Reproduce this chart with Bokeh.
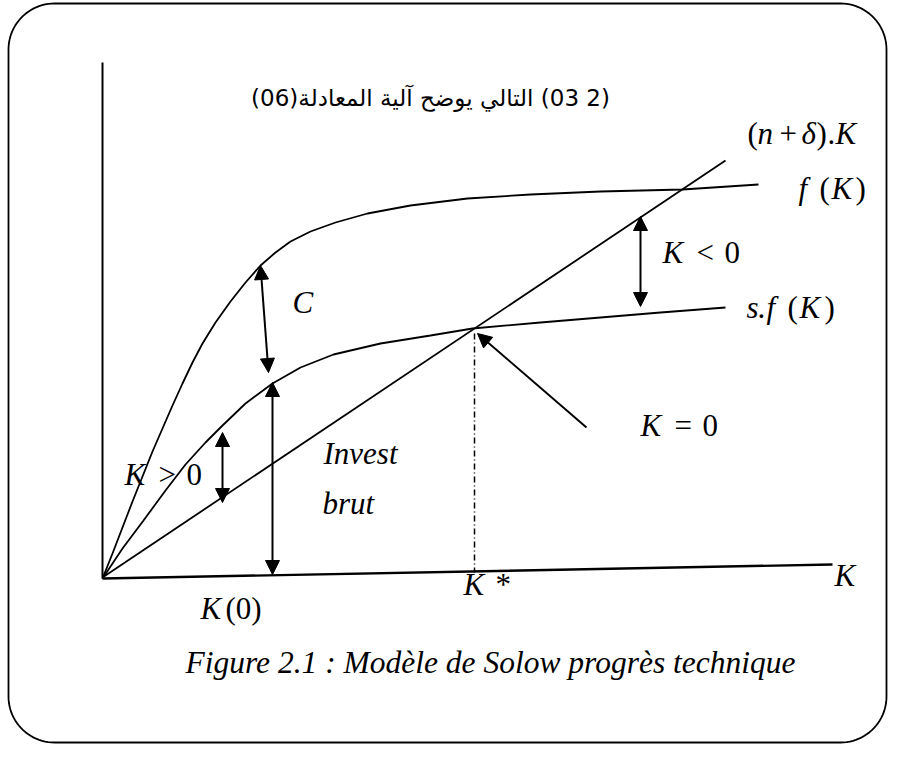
from bokeh.plotting import figure
from bokeh.models import Range1d, Arrow, NormalHead, ColumnDataSource
from bokeh.core.properties import value
from bokeh.embed import file_html
from bokeh.resources import INLINE
import numpy as np

# ---- diagram data (in picture pixel units) ----
f_x = [102, 112, 122, 132, 142, 152, 162, 172, 182, 192, 202, 215, 230, 245, 260, 275, 290, 310, 335, 367, 410, 467, 530, 600, 682, 758]
f_y = [578, 553, 527, 501, 476, 451, 428, 405, 383, 362, 343, 322, 301, 282, 265, 252, 241, 231, 222, 213, 205, 198, 194, 191, 189, 184]

sf_x = [102, 122, 143, 165, 185, 205, 222, 245, 272, 300, 333, 380, 430, 472, 540, 600, 660, 725]
sf_y = [578, 548, 520, 490, 464, 442, 425, 403, 383, 367, 354, 343, 335, 328, 322, 317, 312, 307]

dep_x = [102, 725]
dep_y = [577, 160]

yaxis_x = [102, 102]
yaxis_y = [62, 578]
xaxis_x = [102, 832]
xaxis_y = [578, 564]

kstar_x = [474, 474]
kstar_y = [333, 572]

# double-headed arrows: C, K>0, Invest brut, K<0
arr_x0 = [260, 222, 272, 640]
arr_y0 = [265, 432, 382, 216]
arr_x1 = [268, 222, 272, 640]
arr_y1 = [372, 502, 574, 306]
# single arrow pointing at the steady state
ss_x0, ss_y0, ss_x1, ss_y1 = 586, 427, 477, 333

# label pieces: text, left x, centre y, italic?
seg_text = ["(", "n", "+", "δ", ")", ".", "K",
            "f", "(", "K", ")",
            "s", ".", "f", "(", "K", ")",
            "K", "<", "0",
            "K", "=", "0",
            "K", ">", "0",
            "C",
            "K", "(0)",
            "K", "*",
            "K"]
seg_x = [747, 757, 779, 801, 816, 827, 835,
         798, 819, 831, 855,
         746, 757, 766, 787, 799, 824,
         662, 696, 724,
         640, 674, 702,
         124, 158, 186,
         292,
         200, 225,
         463, 495,
         834]
seg_y = [133, 133, 133, 133, 133, 133, 133,
         188, 188, 188, 188,
         307, 307, 307, 307, 307, 307,
         252, 252, 252,
         425, 425, 425,
         474, 474, 474,
         302,
         608, 608,
         584, 584,
         575]
seg_italic = [0, 1, 0, 1, 0, 0, 1,
              1, 0, 1, 0,
              1, 0, 1, 0, 1, 0,
              1, 0, 0,
              1, 0, 0,
              1, 0, 0,
              1,
              1, 0,
              1, 0,
              1]

invest_text = ["Invest", "brut"]
invest_x = [323, 322]
invest_y = [453, 503]

title_text = "(2 03) التالي يوضح آلية المعادلة(06)"
caption_text = "Figure 2.1 : Modèle de Solow progrès technique"

# ---- figure ----
W, H = 888, 744
p = figure(width=W, height=H, x_range=Range1d(0, W), y_range=Range1d(H, 0),
           output_backend="svg", toolbar_location=None, min_border=0)
p.axis.visible = False
p.grid.visible = False
p.outline_line_color = None
p.background_fill_color = "white"

# rounded frame
L, R, T, B, rad = 8, 886, 3, 742, 46
def arc(cx, cy, a0, a1):
    t = np.linspace(np.radians(a0), np.radians(a1), 24)
    return list(cx + rad * np.cos(t)), list(cy + rad * np.sin(t))
fx, fy = [], []
for cx, cy, a0, a1 in [(L + rad, T + rad, 180, 270), (R - rad, T + rad, 270, 360),
                       (R - rad, B - rad, 0, 90), (L + rad, B - rad, 90, 180)]:
    ax, ay = arc(cx, cy, a0, a1)
    fx += ax
    fy += ay
fx.append(fx[0]); fy.append(fy[0])
p.line(fx, fy, line_color="black", line_width=1.8)

lw = 1.8
p.line(yaxis_x, yaxis_y, line_color="black", line_width=2)
p.line(xaxis_x, xaxis_y, line_color="black", line_width=2.4)
p.line(f_x, f_y, line_color="black", line_width=lw)
p.line(sf_x, sf_y, line_color="black", line_width=lw)
p.line(dep_x, dep_y, line_color="black", line_width=lw)
p.line(kstar_x, kstar_y, line_color="black", line_width=1.5, line_dash="6 3 1 3")

src = ColumnDataSource(dict(x0=arr_x0, y0=arr_y0, x1=arr_x1, y1=arr_y1))
p.add_layout(Arrow(source=src, x_start="x0", y_start="y0", x_end="x1", y_end="y1",
                   line_width=2, line_color="black",
                   start=NormalHead(size=14, fill_color="black", line_color="black"),
                   end=NormalHead(size=14, fill_color="black", line_color="black")))
p.add_layout(Arrow(x_start=ss_x0, y_start=ss_y0, x_end=ss_x1, y_end=ss_y1,
                   line_width=2, line_color="black",
                   end=NormalHead(size=14, fill_color="black", line_color="black")))

serif = value("Liberation Serif")
it_idx = [i for i, v in enumerate(seg_italic) if v]
up_idx = [i for i, v in enumerate(seg_italic) if not v]
p.text([seg_x[i] for i in it_idx], [seg_y[i] for i in it_idx], text=[seg_text[i] for i in it_idx],
       text_align="left", text_baseline="middle",
       text_font=serif, text_font_style="italic", text_font_size="31px", text_color="black")
p.text([seg_x[i] for i in up_idx], [seg_y[i] for i in up_idx], text=[seg_text[i] for i in up_idx],
       text_align="left", text_baseline="middle",
       text_font=serif, text_font_size="31px", text_color="black")
p.text(invest_x, invest_y, text=invest_text, text_align="left", text_baseline="middle",
       text_font=serif, text_font_style="italic", text_font_size="31px", text_color="black")
p.text([430], [97], text=["\u202b" + title_text + "\u202c"], text_align="center", text_baseline="middle",
       text_font=value("DejaVu Sans"), text_font_size="23px", text_color="black")
p.text([490], [662], text=[caption_text], text_align="center", text_baseline="middle",
       text_font=serif, text_font_style="italic", text_font_size="31.5px", text_color="black")

open("out.html", "w").write(file_html(p, INLINE))
